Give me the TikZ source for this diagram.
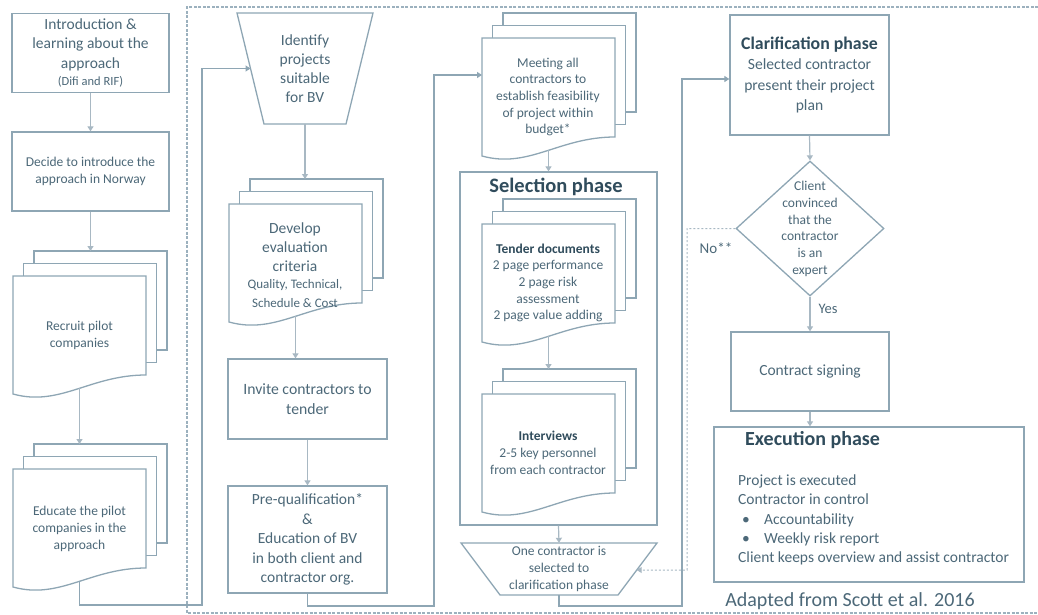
\documentclass[tikz,border=0pt]{standalone}
\usepackage{fontspec}
\setmainfont{Carlito}
\usetikzlibrary{arrows.meta,shapes.geometric,calc}
\definecolor{edgec}{HTML}{8EA6B4}
\definecolor{inkc}{HTML}{4C6878}
\definecolor{darkc}{HTML}{304C5C}
\definecolor{flowc}{HTML}{A8B8C3}
\definecolor{framec}{HTML}{9CB1BE}
\newcommand\fsz[2]{\fontsize{#1}{#2}\selectfont}

% stack of three pages with a wavy bottom on the front page
% #1 left of front page, #2 top of front page, #3 name prefix
\newcommand\docstack[3]{%
  \draw[pg] (#1+21,#2-25) rectangle (#1+154,#2+74);
  \draw[pg] (#1+10.5,#2-12.5) rectangle (#1+143.5,#2+86.5);
  \draw[pg] (#1,#2) -- (#1+133,#2) -- (#1+133,#2+99)
    .. controls (#1+77,#2+99) and (#1+47,#2+131) .. (#1,#2+118) -- cycle;
  \coordinate (#3-back) at (#1+87.5,#2-25);
  \coordinate (#3-out) at (#1+66.5,#2+112);
  \coordinate (#3-w) at (#1,#2+37);
}

\begin{document}
\begin{tikzpicture}[x=1pt,y=-1pt,
  box/.style={draw=edgec, line width=1.3pt, fill=white, inner sep=0pt, text=inkc, align=center},
  txt/.style={text=inkc, align=center, inner sep=0pt},
  pg/.style={draw=edgec, line width=1.3pt, fill=white},
  arrowtip/.style={-{Triangle[length=5pt,width=6pt]}},
  flow/.style={draw=flowc, line width=1.2pt, arrowtip},
  route/.style={draw=edgec, line width=1.2pt, arrowtip},
  retry/.style={draw=flowc, line width=1pt, dash pattern=on 2pt off 2pt, arrowtip},
  frame/.style={draw=framec, line width=1.2pt, dash pattern=on 3pt off 1.5pt},
]
\useasboundingbox (0,0) rectangle (1038,615);

% outer dashed frame, open on the right
\draw[frame] (1038,7) -- (187,7) -- (187,613) -- (1038,613);

% ---- first column
\node[box, minimum width=157pt, minimum height=79pt, font=\fsz{15.5}{19.5}] (intro) at (90.5,53)
  {Introduction \&\\learning about the\\approach\\[-2pt]{\fsz{12.5}{14}(Difi and RIF)}};
\node[box, minimum width=157pt, minimum height=79pt, font=\fsz{13.5}{17}] (decide) at (90.5,171.5)
  {Decide to introduce the\\approach in Norway};
\docstack{13}{276}{recruit}
\node[txt, font=\fsz{13.5}{17}] (recruit) at (79.5,335) {Recruit pilot\\companies};
\docstack{13}{469}{educate}
\node[txt, font=\fsz{13.5}{17}] (educate) at (79.5,529) {Educate the pilot\\companies in the\\approach};

% ---- second column
\draw[pg] (237,13) coordinate (itl) -- (373,13) -- (346,124) -- (264,124) coordinate (ibl) -- cycle;
\node[txt, minimum width=136pt, minimum height=111pt, font=\fsz{15.5}{19}] (ident) at (305,68.5)
  {Identify\\projects\\suitable\\for BV};
\coordinate (ident-w) at ($(itl)!0.5!(ibl)$);
\docstack{229}{204}{develop}
\node[txt, font=\fsz{15.5}{19}] (develop) at (295,265)
  {Develop\\evaluation\\criteria\\[-2pt]{\fsz{13}{16}Quality, Technical,}\\{\fsz{13}{16}Schedule \& Cost}};
\node[box, minimum width=159pt, minimum height=80pt, font=\fsz{15.7}{19.5}] (invite) at (307.5,399)
  {Invite contractors to\\tender};
\node[box, minimum width=159pt, minimum height=107pt, font=\fsz{15.5}{19.5}] (prequal) at (307.5,539.5)
  {Pre-qualification*\\\&\\Education of BV\\in both client and\\contractor org.};

% ---- third column
\docstack{482}{38}{meet}
\node[txt, font=\fsz{13.5}{16.7}] (meet) at (548,97)
  {Meeting all\\contractors to\\establish feasibility\\of project within\\budget*};
\node[box, minimum width=197pt, minimum height=353pt] (sel) at (558.5,348.5) {};
\node[txt, text=darkc, font=\fsz{20.5}{24}\bfseries] (seltitle) at (556,187) {Selection phase};
\docstack{482}{224}{tender}
\node[txt, font=\fsz{13.5}{16.7}] (tender) at (548,283)
  {\textcolor{darkc}{\bfseries Tender documents}\\2 page performance\\2 page risk\\assessment\\2 page value adding};
\docstack{482}{394}{interv}
\node[txt, font=\fsz{13.5}{16.7}] (interv) at (548,453)
  {\textcolor{darkc}{\bfseries Interviews}\\2-5 key personnel\\from each contractor};
\draw[pg] (461,543) -- (657,543) coordinate (otr) -- (618,595) coordinate (obr) -- (500,595) -- cycle;
\node[txt, minimum width=196pt, minimum height=52pt, font=\fsz{13.5}{16.7}] (onec) at (559,569)
  {One contractor is\\selected to\\clarification phase};
\coordinate (onec-e) at ($(otr)!0.52!(obr)$);

% ---- fourth column
\node[box, minimum width=159pt, minimum height=120pt, font=\fsz{15.6}{20}] (clar) at (809.5,75)
  {\textcolor{darkc}{\fsz{17.8}{20}\bfseries Clarification phase}\\Selected contractor\\present their project\\plan};
\node[diamond, draw=edgec, line width=1.3pt, fill=white, minimum width=148pt, minimum height=135pt,
  inner sep=0pt] (dec) at (810,228.5) {};
\node[txt, font=\fsz{13.5}{16.7}] (dectext) at (810,229)
  {Client\\convinced\\that the\\contractor\\is an\\expert};
\node[txt, font=\fsz{15}{17}] (nolabel) at (716,248) {No**};
\node[txt, font=\fsz{14.5}{17}] (yeslabel) at (828,309) {Yes};
\node[box, minimum width=158pt, minimum height=79pt, font=\fsz{15.5}{18}] (contract) at (810,371.5)
  {Contract signing};
\node[box, minimum width=310pt, minimum height=155pt] (exec) at (869,504.5) {};
\node[txt, anchor=west, text=darkc, font=\fsz{20}{24}\bfseries] (exectitle) at (745,440) {Execution phase};
\node[txt, anchor=west, align=left, font=\fsz{15.5}{19.3}] (execbody) at (738,520)
  {Project is executed\\Contractor in control\\
   \hspace*{4pt}\makebox[22pt][l]{\textbullet}Accountability\\
   \hspace*{4pt}\makebox[22pt][l]{\textbullet}Weekly risk report\\
   Client keeps overview and assist contractor};
\node[txt, font=\fsz{20}{24}] (source) at (850,601) {Adapted from Scott et al. 2016};

% ---- connectors
\draw[flow] (intro.south) -- (decide.north);
\draw[flow] (decide.south) -- (decide.south |- recruit-back);
\draw[flow] (recruit-out) -- (recruit-out |- educate-back);
\coordinate (bendA) at (202,605);
\draw[route] (educate-out) |- (bendA) |- (ident-w);
\draw[flow] (ident.south) -- (ident.south |- develop-back);
\draw[flow] (develop-out) -- (develop-out |- invite.north);
\draw[flow] (invite.south) -- (prequal.north);
\coordinate (bendB) at (434,606);
\draw[route] (prequal.south) |- (bendB) |- (meet-w);
\draw[flow] (meet-out) -- (meet-out |- sel.north);
\draw[flow] (tender-out) -- (tender-out |- interv-back);
\draw[flow] (sel.south) -- (onec.north);
\coordinate (bendC) at (682,606);
\draw[route] (onec.south) |- (bendC) |- ([yshift=-4pt]clar.west);
\draw[flow] (clar.south) -- (dec.north);
\draw[flow] (dec.south) -- (contract.north);
\draw[flow] (contract.south) -- (contract.south |- exec.north);
\coordinate (bendD) at (687,570);
\draw[retry] (dec.west) -| (bendD) -- (onec-e);
\end{tikzpicture}
\end{document}
